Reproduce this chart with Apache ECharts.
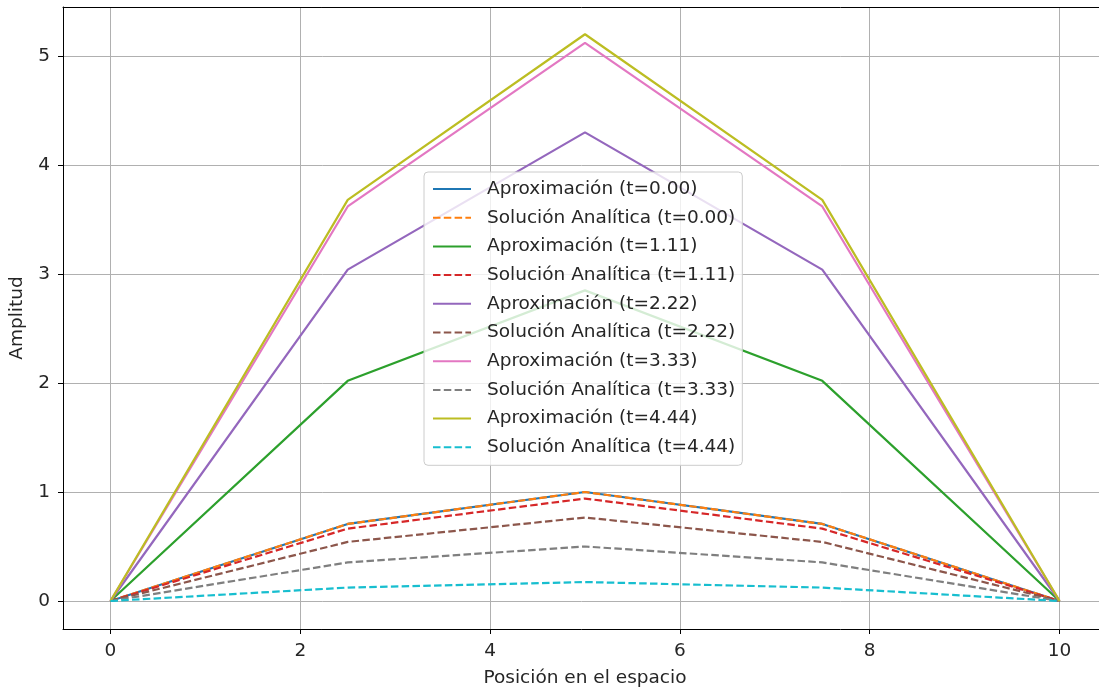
<!DOCTYPE html>
<html>
<head>
<meta charset="utf-8">
<script src="https://cdn.jsdelivr.net/npm/echarts@6/dist/echarts.min.js"></script>
<style>
  html, body { margin: 0; padding: 0; background: #fff; }
  #chart { width: 1099px; height: 692px; }
</style>
</head>
<body>
<div id="chart"></div>
<script>
// Spatial nodes of the string
const positions = [0, 2.5, 5, 7.5, 10];
const xTicks = [0, 2, 4, 6, 8, 10];
const yTicks = [0, 1, 2, 3, 4, 5];

// Numerical approximation at each time step
const aprox000 = [0, 0.707, 1.0, 0.707, 0];
const aprox111 = [0, 2.02, 2.85, 2.02, 0];
const aprox222 = [0, 3.04, 4.30, 3.04, 0];
const aprox333 = [0, 3.62, 5.12, 3.62, 0];
const aprox444 = [0, 3.68, 5.20, 3.68, 0];

// Analytic solution at each time step
const anal000 = [0, 0.707, 1.0, 0.707, 0];
const anal111 = [0, 0.664, 0.940, 0.664, 0];
const anal222 = [0, 0.542, 0.766, 0.542, 0];
const anal333 = [0, 0.354, 0.500, 0.354, 0];
const anal444 = [0, 0.123, 0.174, 0.123, 0];

const seriesDefs = [
  { name: 'Aproximación (t=0.00)', data: aprox000, color: '#1f77b4', dashed: false },
  { name: 'Solución Analítica (t=0.00)', data: anal000, color: '#ff7f0e', dashed: true },
  { name: 'Aproximación (t=1.11)', data: aprox111, color: '#2ca02c', dashed: false },
  { name: 'Solución Analítica (t=1.11)', data: anal111, color: '#d62728', dashed: true },
  { name: 'Aproximación (t=2.22)', data: aprox222, color: '#9467bd', dashed: false },
  { name: 'Solución Analítica (t=2.22)', data: anal222, color: '#8c564b', dashed: true },
  { name: 'Aproximación (t=3.33)', data: aprox333, color: '#e377c2', dashed: false },
  { name: 'Solución Analítica (t=3.33)', data: anal333, color: '#7f7f7f', dashed: true },
  { name: 'Aproximación (t=4.44)', data: aprox444, color: '#bcbd22', dashed: false },
  { name: 'Solución Analítica (t=4.44)', data: anal444, color: '#17becf', dashed: true }
];

const FONT = 'DejaVu Sans';
const FS = 18.5;
const chart = echarts.init(document.getElementById('chart'), null, { renderer: 'canvas' });

chart.setOption({
  animation: false,
  backgroundColor: '#ffffff',
  textStyle: { fontFamily: FONT },
  grid: {
    left: 63, top: 7, width: 1044, height: 622,
    containLabel: false, outerBoundsMode: 'none', show: false
  },
  legend: {
    orient: 'vertical',
    left: 424, top: 172,
    itemWidth: 38, itemHeight: 14, itemGap: 8.7,
    padding: [7, 7, 8, 8],
    backgroundColor: 'rgba(255,255,255,0.8)',
    borderColor: '#cccccc', borderWidth: 1, borderRadius: 4,
    itemStyle: { opacity: 0 },
    textStyle: { fontFamily: FONT, fontSize: FS, lineHeight: 20, color: '#262626', padding: [0, 0, 0, 11] },
    data: seriesDefs.map(s => s.name)
  },
  xAxis: [{
    type: 'value', min: -0.5, max: 10.5,
    name: 'Posición en el espacio', nameLocation: 'middle', nameGap: 40,
    nameTextStyle: { fontFamily: FONT, fontSize: FS, color: '#262626' },
    axisLine: { show: true, onZero: false, lineStyle: { color: '#000', width: 1 } },
    axisTick: { show: true, length: 5, customValues: xTicks, lineStyle: { color: '#000' } },
    axisLabel: { customValues: xTicks, margin: 13, fontFamily: FONT, fontSize: FS, color: '#262626' },
    splitLine: { show: true, lineStyle: { color: '#b0b0b0', width: 1 } }
  }, {
    // top spine of the plot frame
    type: 'value', position: 'top', min: -0.5, max: 10.5,
    axisLine: { show: true, onZero: false, lineStyle: { color: '#000', width: 1 } },
    axisTick: { show: false }, axisLabel: { show: false }, splitLine: { show: false }
  }],
  yAxis: {
    type: 'value', min: -0.257, max: 5.45,
    name: 'Amplitud', nameLocation: 'middle', nameGap: 36, nameRotate: 90,
    nameTextStyle: { fontFamily: FONT, fontSize: FS, color: '#262626' },
    axisLine: { show: true, onZero: false, lineStyle: { color: '#000', width: 1 } },
    axisTick: { show: true, length: 5, customValues: yTicks, lineStyle: { color: '#000' } },
    axisLabel: { customValues: yTicks, margin: 13, fontFamily: FONT, fontSize: FS, color: '#262626' },
    splitLine: { show: true, lineStyle: { color: '#b0b0b0', width: 1 } }
  },
  series: seriesDefs.map(s => ({
    name: s.name,
    type: 'line',
    xAxisIndex: 0,
    data: positions.map((x, i) => [x, s.data[i]]),
    symbol: 'none',
    color: s.color,
    lineStyle: { color: s.color, width: 2.2, type: s.dashed ? [7.5, 3.3] : 'solid' },
    emphasis: { disabled: true }
  }))
});
</script>
</body>
</html>
